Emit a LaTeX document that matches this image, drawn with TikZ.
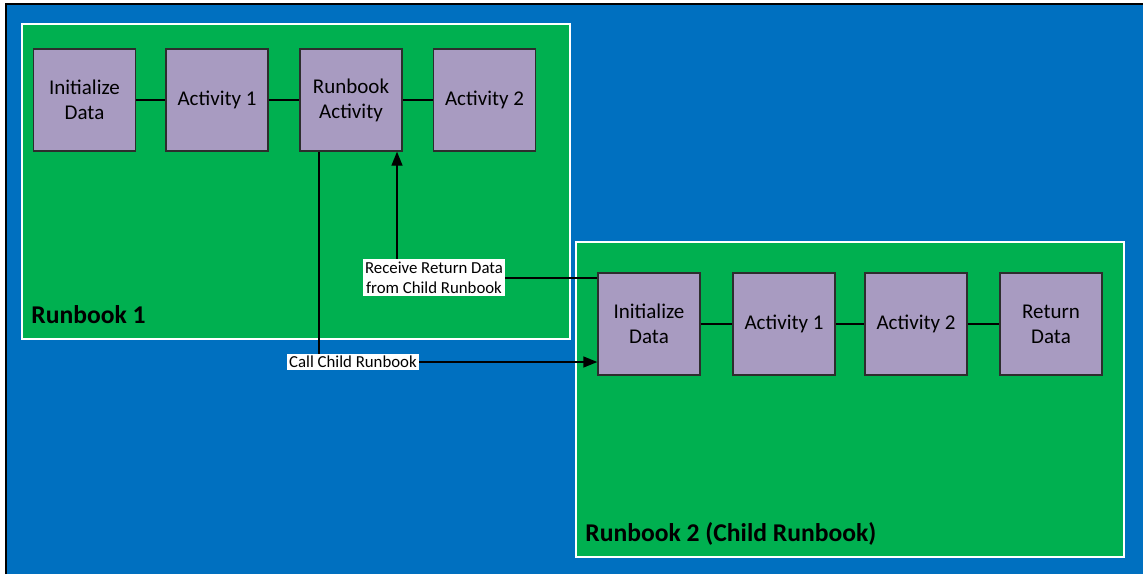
\documentclass[tikz,border=0pt]{standalone}
\usepackage{fontspec}
\setmainfont{Carlito}
\usetikzlibrary{arrows.meta}
\definecolor{bgblue}{RGB}{0,112,192}
\definecolor{rbgreen}{RGB}{0,176,80}
\definecolor{actpurple}{RGB}{168,155,193}
\definecolor{actborder}{RGB}{45,45,45}

\tikzset{
  activity/.style={draw=actborder, fill=actpurple, line width=0.7pt,
    minimum width=51pt, minimum height=51pt, inner sep=0pt,
    align=center, font=\fontsize{10.5}{12.5}\selectfont},
  runbook/.style={fill=rbgreen, draw=white, line width=0.6pt},
  link/.style={draw=black, line width=0.7pt},
  call/.style={link, -{Triangle[length=7pt,width=5.5pt]}},
  tag/.style={fill=white, inner sep=1pt, align=center,
    font=\fontsize{8.4}{10.2}\selectfont},
  title/.style={anchor=base west, inner sep=0pt,
    font=\fontsize{12.8}{14}\selectfont\bfseries}
}

\begin{document}
\begin{tikzpicture}[x=0.5pt, y=-0.5pt]
\useasboundingbox (0,0) rectangle (1145,574);

%background
\fill[white] (0,0) rectangle (1145,574);
\fill[bgblue] (7,5) rectangle (1143,574);
\draw[line width=1pt] (6,574) -- (6,4) -- (1143,4);

%the two runbooks
\draw[runbook] (22,24) rectangle (570,339);
\draw[runbook] (576,242) rectangle (1124,557);
\node[title] (rb1) at (31,323) {Runbook 1};
\node[title] (rb2) at (585,541) {Runbook 2 (Child Runbook)};

%parent runbook activities
\node[activity] (init1) at (84.5,100) {Initialize\\Data};
\node[activity] (act11) at (217,100) {Activity 1};
\node[activity] (rbact) at (351,100) {Runbook\\Activity};
\node[activity] (act12) at (484.5,100) {Activity 2};

%child runbook activities
\node[activity] (init2) at (649,324) {Initialize\\Data};
\node[activity] (act21) at (784,324) {Activity 1};
\node[activity] (act22) at (916,324) {Activity 2};
\node[activity] (ret2) at (1051,324) {Return\\Data};

\draw[link] (init1) -- (act11) -- (rbact) -- (act12);
\draw[link] (init2) -- (act21) -- (act22) -- (ret2);

%call and return
\coordinate (callc) at (319,362);
\coordinate (recvc) at (397,278);
\draw[call] (callc |- rbact.south) -- (callc) -- (callc -| init2.west);
\draw[call] (recvc -| init2.west) -- (recvc) -- (recvc |- rbact.south);

\node[tag] (calltag) at (353,362) {Call Child Runbook};
\node[tag] (recvtag) at (434,277.5) {Receive Return Data\\from Child Runbook};

\end{tikzpicture}
\end{document}
